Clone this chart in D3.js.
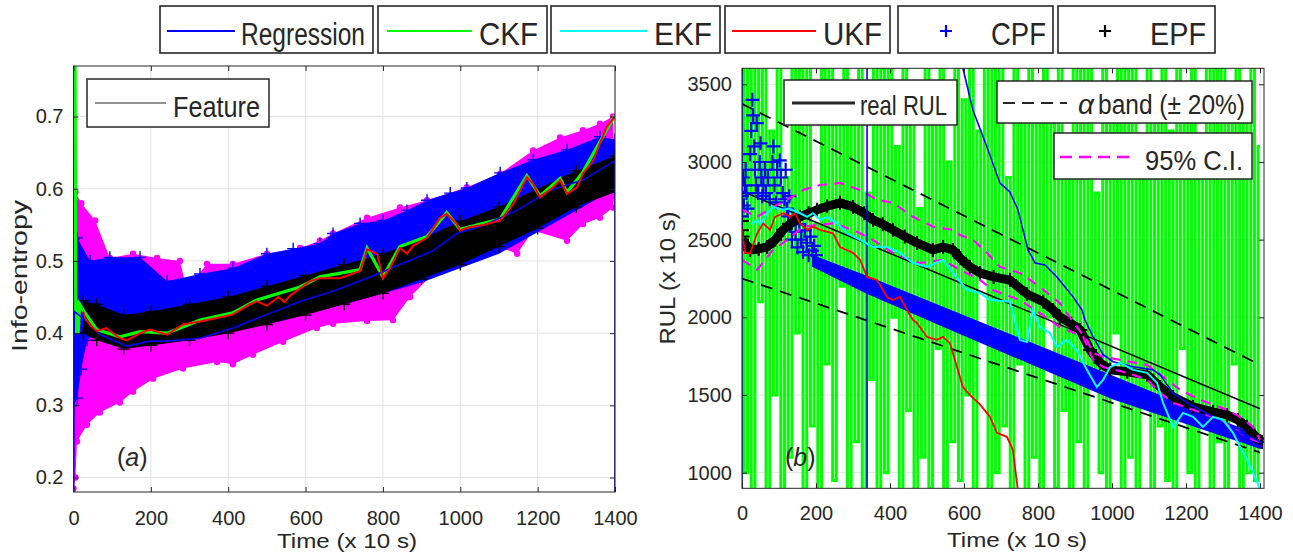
<!DOCTYPE html>
<html>
<head>
<meta charset="utf-8">
<script src="https://cdn.jsdelivr.net/npm/d3@7/dist/d3.min.js"></script>
<style>
body { margin: 0; background: #fff; }
text { font-family: 'Liberation Sans', Arial, Helvetica, sans-serif; fill: #262626; }
</style>
</head>
<body>
<svg id="fig" width="1293" height="553"></svg>
<script>
// ---------- data: panel (a), info-entropy vs time ----------
var xTicks = [0, 200, 400, 600, 800, 1000, 1200, 1400];
var entropyTicks = [0.2, 0.3, 0.4, 0.5, 0.6, 0.7];
var rulTicks = [1000, 1500, 2000, 2500, 3000, 3500];

// envelope of the magenta particle cloud
var cloudUpper = [[0,0.60],[5,0.595],[20,0.58],[56,0.556],[94,0.504],[154,0.51],[216,0.504],[275,0.50],[293,0.46],[345,0.496],[412,0.496],[500,0.51],[586,0.518],[637,0.528],[671,0.538],[759,0.56],[844,0.574],[914,0.584],[1017,0.602],[1103,0.621],[1188,0.653],[1258,0.671],[1317,0.681],[1361,0.69],[1395,0.70]];
var cloudLower = [[0,0.185],[5,0.20],[9,0.25],[35,0.273],[68,0.29],[120,0.304],[154,0.319],[206,0.337],[283,0.351],[371,0.36],[412,0.357],[464,0.37],[542,0.388],[629,0.407],[671,0.413],[759,0.417],[826,0.418],[870,0.45],[929,0.482],[999,0.50],[1059,0.528],[1147,0.51],[1188,0.542],[1276,0.528],[1317,0.551],[1361,0.56],[1395,0.574],[1400,0.60]];
// CPF particles (blue +)
var cpfUpper = [[0,0.53],[9,0.532],[43,0.50],[94,0.505],[172,0.505],[242,0.472],[327,0.482],[412,0.49],[500,0.51],[568,0.517],[637,0.524],[671,0.538],[741,0.552],[800,0.556],[862,0.57],[914,0.584],[974,0.594],[1017,0.601],[1103,0.622],[1188,0.64],[1276,0.654],[1361,0.672],[1400,0.668]];
var cpfLower = [[0,0.30],[10,0.31],[20,0.35],[35,0.39],[60,0.40],[130,0.40],[300,0.41],[500,0.42],[700,0.44],[900,0.47],[1100,0.51],[1300,0.57],[1400,0.60]];
// EPF particles (black +)
var epfUpper = [[25,0.445],[60,0.44],[130,0.425],[200,0.43],[300,0.44],[400,0.45],[500,0.465],[600,0.48],[700,0.495],[800,0.51],[900,0.53],[1000,0.555],[1100,0.575],[1200,0.60],[1300,0.625],[1400,0.645]];
var epfLower = [[25,0.40],[60,0.39],[130,0.378],[200,0.383],[300,0.39],[400,0.40],[500,0.412],[600,0.425],[700,0.44],[800,0.455],[900,0.475],[1000,0.495],[1100,0.52],[1200,0.545],[1300,0.575],[1400,0.595]];
var regEntropy = [[0,0.10],[2,0.43],[35,0.416],[68,0.398],[138,0.382],[198,0.389],[242,0.389],[327,0.393],[412,0.407],[500,0.426],[586,0.444],[671,0.458],[759,0.476],[844,0.495],[929,0.514],[991,0.538],[1059,0.549],[1147,0.57],[1232,0.598],[1317,0.612],[1400,0.639],[1400,0.10]];
var ukfEntropy = [[25,0.43],[30,0.421],[45,0.41],[60,0.403],[85,0.407],[120,0.393],[138,0.39],[172,0.40],[198,0.405],[242,0.398],[283,0.412],[327,0.416],[371,0.421],[412,0.426],[456,0.44],[474,0.444],[500,0.438],[530,0.45],[545,0.443],[560,0.452],[586,0.462],[612,0.472],[637,0.476],[689,0.476],[741,0.486],[759,0.516],[785,0.51],[800,0.476],[818,0.49],[844,0.518],[862,0.51],[878,0.521],[914,0.532],[948,0.56],[965,0.565],[991,0.551],[999,0.542],[1017,0.546],[1060,0.55],[1103,0.556],[1137,0.579],[1155,0.598],[1172,0.616],[1188,0.607],[1206,0.588],[1240,0.602],[1258,0.612],[1276,0.593],[1302,0.602],[1317,0.621],[1344,0.639],[1361,0.663],[1379,0.686],[1400,0.70]];
var ckfEntropy = [[0,0.80],[4,0.80],[6,0.40],[9,0.445],[12,0.40],[16,0.44],[25,0.432],[60,0.405],[120,0.395],[172,0.402],[242,0.40],[327,0.418],[412,0.428],[474,0.446],[586,0.464],[637,0.478],[741,0.488],[759,0.518],[800,0.478],[844,0.52],[914,0.534],[965,0.567],[999,0.544],[1103,0.558],[1172,0.618],[1206,0.59],[1258,0.614],[1276,0.595],[1317,0.623],[1361,0.665],[1400,0.702]];

// ---------- data: panel (b), RUL vs time ----------
var realRUL = [[0,2812],[1400,1412]];
var alphaUpper = [[0,3374],[1400,1694]];
var alphaLower = [[0,2250],[1400,1130]];
var regRUL = [[0,850],[0,3700],null,[338,850],[338,3700],null,[590,3700],[597,3605],[624,3335],[662,3097],[697,2865],[724,2807],[746,2691],[773,2434],[792,2350],[819,2337],[851,2260],[895,2131],[919,2047],[927,1983],[949,1874],[976,1760],[1003,1714],[1057,1682],[1111,1662],[1130,1630],[1165,1514],[1203,1450],[1238,1405],[1273,1360],[1327,1276],[1373,1231],[1405,1193]];
var ukfRUL = [[0,2570],[8,2413],[22,2413],[41,2541],[57,2605],[76,2563],[89,2647],[111,2670],[130,2647],[143,2670],[157,2605],[176,2563],[192,2584],[211,2563],[246,2541],[265,2453],[300,2415],[319,2370],[338,2260],[365,2240],[392,2131],[408,2111],[427,2131],[446,2047],[462,1983],[473,1962],[500,1874],[527,1855],[543,1874],[562,1834],[581,1680],[597,1552],[616,1500],[643,1440],[670,1360],[689,1257],[716,1231],[732,1147],[746,880]];
var ekfRUL = [[25,2600],[41,2627],[50,2600],[68,2670],[84,2711],[111,2692],[127,2700],[157,2670],[176,2647],[192,2670],[211,2627],[230,2647],[257,2605],[284,2541],[319,2498],[354,2453],[392,2453],[427,2415],[462,2350],[500,2325],[543,2370],[570,2286],[608,2177],[643,2157],[670,2111],[724,2100],[751,1855],[770,1842],[786,2047],[805,1938],[832,1900],[851,1810],[878,1855],[905,1790],[932,1662],[959,1552],[976,1598],[995,1680],[1022,1707],[1057,1662],[1095,1643],[1122,1578],[1138,1450],[1165,1295],[1192,1385],[1219,1360],[1246,1295],[1273,1360],[1300,1340],[1327,1257],[1346,1167],[1365,1083],[1381,1000],[1395,923],[1400,880]];
var epfRUL = [[0,2500],[22,2434],[45,2440],[68,2453],[90,2500],[111,2563],[135,2610],[157,2647],[180,2670],[203,2692],[230,2715],[265,2737],[300,2711],[330,2670],[354,2627],[380,2600],[408,2563],[440,2520],[473,2479],[516,2434],[543,2453],[570,2434],[590,2380],[616,2325],[643,2286],[680,2260],[724,2240],[770,2150],[814,2100],[841,2047],[859,2003],[890,1960],[914,1919],[941,1790],[968,1707],[995,1662],[1041,1650],[1095,1630],[1130,1552],[1165,1488],[1219,1424],[1273,1392],[1311,1372],[1340,1340],[1365,1295],[1385,1240],[1405,1198]];
var ciUpper = [[0,2692],[41,2647],[84,2711],[122,2757],[165,2820],[211,2852],[265,2865],[319,2820],[365,2757],[408,2737],[462,2647],[516,2584],[570,2563],[589,2530],[624,2500],[660,2420],[697,2325],[751,2286],[805,2196],[859,2092],[905,1938],[932,1855],[949,1771],[976,1746],[1022,1726],[1095,1694],[1149,1598],[1184,1533],[1238,1469],[1311,1405],[1346,1360],[1381,1295],[1400,1212]];
var ciLower = [[0,2370],[41,2306],[84,2434],[122,2498],[165,2584],[246,2605],[300,2563],[354,2498],[408,2415],[481,2350],[543,2370],[589,2306],[643,2241],[678,2176],[751,2111],[805,2028],[859,1938],[922,1874],[949,1726],[976,1680],[1041,1643],[1095,1598],[1130,1514],[1165,1450],[1219,1405],[1292,1340],[1346,1257],[1381,1212],[1405,1193]];
var cpfBandUpper = [[192,2394],[338,2260],[589,2017],[1000,1620],[1400,1231],[1405,1228]];
var cpfBandLower = [[192,2330],[338,2157],[589,1899],[1000,1480],[1400,1160],[1405,1160]];
var cpfEarly = [[0,2650],[0,2780],[3,2900],[5,2720],[8,2850],[10,2950],[12,2800],[15,2700],[22,3050],[25,3200],[28,3400],[30,3300],[33,3100],[35,2950],[38,2850],[40,3250],[43,2800],[48,3000],[50,3120],[52,2900],[55,2780],[58,2850],[62,2950],[65,2800],[70,2900],[75,2760],[82,3000],[85,3100],[88,2850],[92,2740],[95,2950],[102,3010],[105,2900],[110,2800],[115,2760],[118,2950],[122,2700],[125,2650],[128,2780],[132,2600],[135,2500],[140,2650],[145,2550],[150,2450],[155,2600],[160,2500],[165,2420],[170,2560],[175,2480],[180,2400],[185,2520],[190,2430],[195,2460],[200,2400]];
var epfEarly = [[0,2620],[0,2560],[2,2520]];
// CKF RUL estimate, one value every 10 time units (0..1400)
var ckfStep = 10;
var ckfRUL = [
  3700, 1000, 3600, 850, 3900, 2100, 3700, 800, 3200, 1500,
  3700, 850, 2900, 1100, 3700, 1900, 3600, 800, 3700, 1300,
  2600, 850, 3650, 1700, 3700, 950, 3300, 2200, 3700, 850,
  3500, 1200, 3700, 880, 2800, 1600, 3700, 850, 3600, 1000,
  3700, 2000, 3100, 850, 3700, 1400, 3500, 850, 2700, 1100,
  3700, 900, 3400, 1800, 3700, 850, 3000, 1200, 3700, 950,
  3400, 1500, 3700, 850, 3200, 2300, 3700, 850, 3600, 1000,
  3700, 1300, 2900, 850, 3700, 1700, 3500, 880, 3700, 1100,
  3300, 850, 3700, 2000, 3500, 900, 3700, 1400, 3100, 850,
  3700, 1200, 3650, 850, 3700, 1600, 2800, 1000, 3700, 850,
  3400, 1900, 3700, 880, 3600, 1100, 3700, 850, 3000, 1500,
  3700, 850, 3500, 1300, 3700, 950, 3200, 850, 3700, 1800,
  3500, 1000, 3700, 850, 2900, 1400, 3700, 850, 3600, 1200,
  3700, 880, 3300, 1700, 3700, 850, 3500, 1000, 3700, 950,
  3100];

var legendLabels = ['Regression', 'CKF', 'EKF', 'UKF', 'CPF', 'EPF'];
var legendColors = ['#0000ff', '#00ff00', '#00ffff', '#ff0000', '#0000ff', '#000000'];

// ---------- chart ----------
var svg = d3.select('#fig');
var FONT = "'Liberation Sans', Arial, Helvetica, sans-serif";
var plusPath = function (s) { return 'M' + (-s) + ',0H' + s + 'M0,' + (-s) + 'V' + s; };

var xa = d3.scaleLinear().domain([0, 1400]).range([73.5, 615]);
var ya = d3.scaleLinear().domain([0.18, 0.77]).range([492, 66]);
var xb = d3.scaleLinear().domain([0, 1410.8]).range([742, 1264]);
var yb = d3.scaleLinear().domain([899.6, 3603]).range([488.3, 68.3]);

var defs = svg.append('defs');
function clip(id, x, y) {
	defs.append('clipPath').attr('id', id).append('rect')
		.attr('x', x.range()[0]).attr('y', y.range()[1])
		.attr('width', x.range()[1] - x.range()[0])
		.attr('height', y.range()[0] - y.range()[1]);
}
clip('clipA', xa, ya);
clip('clipB', xb, yb);

function grid(x, y, yt) {
	var g = svg.append('g').attr('stroke', '#e2e2e2').attr('stroke-width', 1);
	g.selectAll('.gx').data(xTicks).enter().append('line')
		.attr('x1', d => x(d)).attr('x2', d => x(d))
		.attr('y1', y.range()[1]).attr('y2', y.range()[0]);
	g.selectAll('.gy').data(yt).enter().append('line')
		.attr('y1', d => y(d)).attr('y2', d => y(d))
		.attr('x1', x.range()[0]).attr('x2', x.range()[1]);
}
function axes(x, y, yt, yFmt, xPad) {
	var x0 = x.range()[0], x1 = x.range()[1], y0 = y.range()[0], y1 = y.range()[1];
	var g = svg.append('g');
	g.append('g').attr('transform', 'translate(0,' + y0 + ')')
		.call(d3.axisBottom(x).tickValues(xTicks).tickSize(-5).tickSizeOuter(0).tickPadding(xPad).tickFormat(d3.format('d')));
	g.append('g').attr('transform', 'translate(' + x0 + ',0)')
		.call(d3.axisLeft(y).tickValues(yt).tickSize(-5).tickSizeOuter(0).tickPadding(10).tickFormat(yFmt));
	g.append('g').attr('transform', 'translate(0,' + y1 + ')')
		.call(d3.axisTop(x).tickValues(xTicks).tickSize(-5).tickSizeOuter(0).tickFormat(''));
	g.append('g').attr('transform', 'translate(' + x1 + ',0)')
		.call(d3.axisRight(y).tickValues(yt).tickSize(-5).tickSizeOuter(0).tickFormat(''));
	g.selectAll('.domain').remove();
	g.selectAll('.tick line').attr('stroke', '#262626');
	g.selectAll('.tick text').attr('font-size', 20).attr('font-family', FONT).attr('fill', '#262626');
	g.append('rect').attr('x', x0).attr('y', y1).attr('width', x1 - x0).attr('height', y0 - y1)
		.attr('fill', 'none').attr('stroke', '#262626').attr('stroke-width', 1);
}
function band(g, line, upper, lower) {
	return g.append('path').attr('d', line(upper.concat(lower.slice().reverse())) + 'Z');
}

// ===== panel (a) =====
grid(xa, ya, entropyTicks);
var la = d3.line().x(d => xa(d[0])).y(d => ya(d[1]));
var ga = svg.append('g').attr('clip-path', 'url(#clipA)');

band(ga, la, cloudUpper, cloudLower).attr('fill', '#ff00ff');
ga.selectAll('.mdot').data(cloudUpper.concat(cloudLower)).enter().append('circle')
	.attr('cx', d => xa(d[0])).attr('cy', d => ya(d[1])).attr('r', 3.2).attr('fill', '#ff00ff');

band(ga, la, cpfUpper, cpfLower).attr('fill', '#0000ff');
ga.selectAll('.bplus').data(cpfUpper.concat(cpfLower.slice(0, 5))).enter().append('path')
	.attr('transform', d => 'translate(' + xa(d[0]) + ',' + ya(d[1]) + ')')
	.attr('d', plusPath(6)).attr('stroke', '#0000ff').attr('stroke-width', 1.4);

band(ga, la, epfUpper, epfLower).attr('fill', '#000000');
ga.selectAll('.kplus').data(epfUpper.concat(epfLower)).enter().append('path')
	.attr('transform', d => 'translate(' + xa(d[0]) + ',' + ya(d[1]) + ')')
	.attr('d', plusPath(6)).attr('stroke', '#000').attr('stroke-width', 1.3);

ga.append('path').attr('d', la(ckfEntropy)).attr('fill', 'none').attr('stroke', '#00ff00').attr('stroke-width', 3.2);
ga.append('path').attr('d', la(regEntropy)).attr('fill', 'none').attr('stroke', '#0000ff').attr('stroke-width', 1.6);
ga.append('path').attr('d', la(ukfEntropy)).attr('fill', 'none').attr('stroke', '#ff0000').attr('stroke-width', 2);

axes(xa, ya, entropyTicks, d3.format('.1f'), 19);

// feature legend
var fl = svg.append('g');
fl.append('rect').attr('x', 87).attr('y', 79).attr('width', 182).attr('height', 48)
	.attr('fill', '#fff').attr('stroke', '#262626').attr('stroke-width', 1.5);
fl.append('line').attr('x1', 95).attr('x2', 166).attr('y1', 103).attr('y2', 103).attr('stroke', '#262626').attr('stroke-width', 1.2);
fl.append('text').attr('x', 173).attr('y', 117).attr('font-size', 30)
	.attr('textLength', 87).attr('lengthAdjust', 'spacingAndGlyphs').text('Feature');

svg.append('text').attr('x', 117).attr('y', 466).attr('font-size', 25)
	.attr('font-family', "'Liberation Serif', serif").attr('fill', '#000')
	.html('(<tspan font-style="italic">a</tspan>)');

svg.append('text').attr('transform', 'translate(27,276) rotate(-90)').attr('text-anchor', 'middle')
	.attr('font-size', 22).attr('textLength', 152).attr('lengthAdjust', 'spacingAndGlyphs').text('Info-entropy');
svg.append('text').attr('x', 347).attr('y', 548).attr('text-anchor', 'middle')
	.attr('font-size', 21).attr('textLength', 140).attr('lengthAdjust', 'spacingAndGlyphs').text('Time (x 10 s)');

// ===== panel (b) =====
grid(xb, yb, rulTicks);
var lb = d3.line().defined(d => d != null).x(d => xb(d[0])).y(d => yb(d[1]));
var gb = svg.append('g').attr('clip-path', 'url(#clipB)');

// CKF jumps between extremes: drawn as a step line so the swings stay vertical
var ckfPts = ckfRUL.map((v, i) => [i * ckfStep, v]);
var lbStep = d3.line().curve(d3.curveStep).x(d => xb(d[0])).y(d => yb(d[1]));
gb.append('path').attr('d', lbStep(ckfPts)).attr('fill', 'none').attr('stroke', '#00ff00').attr('stroke-width', 3);

[alphaUpper, alphaLower].forEach(function (s) {
	gb.append('path').attr('d', lb(s)).attr('fill', 'none').attr('stroke', '#000')
		.attr('stroke-width', 1.8).attr('stroke-dasharray', '12,8');
});
gb.append('path').attr('d', lb(realRUL)).attr('fill', 'none').attr('stroke', '#000').attr('stroke-width', 1.5);

band(gb, lb, cpfBandUpper, cpfBandLower).attr('fill', '#0000ff').attr('stroke', '#0000ff').attr('stroke-width', 2);
gb.selectAll('.cpf').data(cpfEarly).enter().append('path')
	.attr('transform', d => 'translate(' + xb(d[0]) + ',' + yb(d[1]) + ')')
	.attr('d', plusPath(7)).attr('stroke', '#0000ff').attr('stroke-width', 2.2);

gb.append('path').attr('d', lb(epfRUL)).attr('fill', 'none').attr('stroke', '#000')
	.attr('stroke-width', 9).attr('stroke-linejoin', 'round');
gb.selectAll('.epf').data(epfRUL.concat(epfEarly)).enter().append('path')
	.attr('transform', d => 'translate(' + xb(d[0]) + ',' + yb(d[1]) + ')')
	.attr('d', plusPath(7)).attr('stroke', '#000').attr('stroke-width', 2);

[ciUpper, ciLower].forEach(function (s) {
	gb.append('path').attr('d', lb(s)).attr('fill', 'none').attr('stroke', '#ff00ff')
		.attr('stroke-width', 2.2).attr('stroke-dasharray', '10,7');
});
gb.append('path').attr('d', lb(regRUL)).attr('fill', 'none').attr('stroke', '#0000ff').attr('stroke-width', 1.6);
gb.append('path').attr('d', lb(ukfRUL)).attr('fill', 'none').attr('stroke', '#ff0000').attr('stroke-width', 1.8);
gb.append('path').attr('d', lb(ekfRUL)).attr('fill', 'none').attr('stroke', '#00ffff').attr('stroke-width', 2);

axes(xb, yb, rulTicks, d3.format('d'), 18);

// legends of panel (b)
var lg = svg.append('g');
lg.append('rect').attr('x', 784).attr('y', 80).attr('width', 173).attr('height', 45)
	.attr('fill', '#fff').attr('stroke', '#262626').attr('stroke-width', 1.5);
lg.append('line').attr('x1', 792).attr('x2', 855).attr('y1', 103).attr('y2', 103).attr('stroke', '#262626').attr('stroke-width', 3);
lg.append('text').attr('x', 860).attr('y', 115).attr('font-size', 28)
	.attr('textLength', 87).attr('lengthAdjust', 'spacingAndGlyphs').text('real RUL');

lg.append('rect').attr('x', 997).attr('y', 81).attr('width', 255).attr('height', 42)
	.attr('fill', '#fff').attr('stroke', '#262626').attr('stroke-width', 1.5);
lg.append('line').attr('x1', 1003).attr('x2', 1067).attr('y1', 103).attr('y2', 103)
	.attr('stroke', '#262626').attr('stroke-width', 2).attr('stroke-dasharray', '12,7');
lg.append('text').attr('x', 1078).attr('y', 114).attr('font-size', 28)
	.attr('font-family', "'Liberation Serif', serif").attr('font-style', 'italic').text('\u03b1');
lg.append('text').attr('x', 1098).attr('y', 114).attr('font-size', 27)
	.attr('textLength', 147).attr('lengthAdjust', 'spacingAndGlyphs').text('band (\u00b1 20%)');

lg.append('rect').attr('x', 1054).attr('y', 133).attr('width', 198).attr('height', 46)
	.attr('fill', '#fff').attr('stroke', '#262626').attr('stroke-width', 1.5);
lg.append('line').attr('x1', 1060).attr('x2', 1132).attr('y1', 157).attr('y2', 157)
	.attr('stroke', '#ff00ff').attr('stroke-width', 2.5).attr('stroke-dasharray', '12,7');
lg.append('text').attr('x', 1145).attr('y', 170).attr('font-size', 28)
	.attr('textLength', 98).attr('lengthAdjust', 'spacingAndGlyphs').text('95% C.I.');

svg.append('text').attr('x', 785).attr('y', 466).attr('font-size', 25)
	.attr('font-family', "'Liberation Serif', serif").attr('fill', '#000')
	.html('(<tspan font-style="italic">b</tspan>)');

svg.append('text').attr('transform', 'translate(675,278) rotate(-90)').attr('text-anchor', 'middle')
	.attr('font-size', 22).attr('textLength', 133).attr('lengthAdjust', 'spacingAndGlyphs').text('RUL (x 10 s)');
svg.append('text').attr('x', 1017).attr('y', 547).attr('text-anchor', 'middle')
	.attr('font-size', 21).attr('textLength', 140).attr('lengthAdjust', 'spacingAndGlyphs').text('Time (x 10 s)');

// ===== shared legend on top =====
var boxes = [
	{ x0: 160, x1: 373, l0: 167, l1: 235, tx: 241, tl: 124 },
	{ x0: 378, x1: 547, l0: 387, l1: 472, tx: 479, tl: 59 },
	{ x0: 551, x1: 720, l0: 560, l1: 647, tx: 654, tl: 58 },
	{ x0: 725, x1: 890, l0: 732, l1: 816, tx: 823, tl: 59 },
	{ x0: 898, x1: 1053, m: 946, tx: 991, tl: 55 },
	{ x0: 1058, x1: 1215, m: 1105, tx: 1150, tl: 56 }
];
var topLegend = svg.append('g');
legendLabels.forEach(function (lab, i) {
	var b = boxes[i];
	topLegend.append('rect').attr('x', b.x0).attr('y', 6).attr('width', b.x1 - b.x0).attr('height', 47)
		.attr('fill', '#fff').attr('stroke', '#262626').attr('stroke-width', 1.6);
	if (b.m) {
		topLegend.append('path').attr('transform', 'translate(' + b.m + ',31)').attr('d', plusPath(6))
			.attr('stroke', legendColors[i]).attr('stroke-width', 2.2);
	} else {
		topLegend.append('line').attr('x1', b.l0).attr('x2', b.l1).attr('y1', 31).attr('y2', 31)
			.attr('stroke', legendColors[i]).attr('stroke-width', 2);
	}
	topLegend.append('text').attr('x', b.tx).attr('y', 45).attr('font-size', 31)
		.attr('textLength', b.tl).attr('lengthAdjust', 'spacingAndGlyphs').text(lab);
});
</script>
</body>
</html>
